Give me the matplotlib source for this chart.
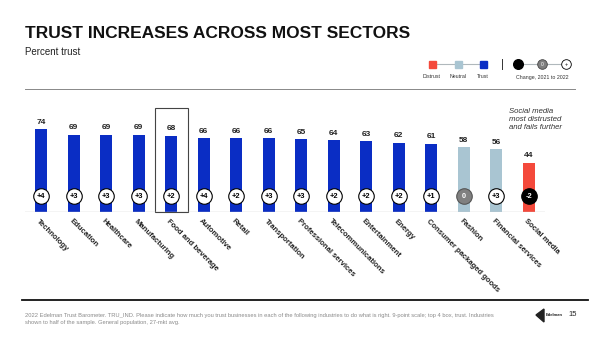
import matplotlib
matplotlib.use("Agg")
import matplotlib.pyplot as plt
from matplotlib.patches import Rectangle

plt.rcParams['font.family'] = ['Liberation Sans', 'DejaVu Sans']

categories = ["Technology", "Education", "Healthcare", "Manufacturing", "Food and beverage",
              "Automotive", "Retail", "Transportation", "Professional services",
              "Telecommunications", "Entertainment", "Energy", "Consumer packaged goods",
              "Fashion", "Financial services", "Social media"]
trust = [74, 69, 69, 69, 68, 66, 66, 66, 65, 64, 63, 62, 61, 58, 56, 44]
change = [4, 3, 3, 3, 2, 4, 2, 3, 3, 2, 2, 2, 1, 0, 3, -2]
level = ["trust"] * 13 + ["neutral", "neutral", "distrust"]

BLUE = "#0a2dc4"
NEUTRAL = "#a9c5d2"
RED = "#f4493b"
colors = {"trust": BLUE, "neutral": NEUTRAL, "distrust": RED}

W, H = 600, 337
fig = plt.figure(figsize=(W / 100, H / 100), dpi=100)

def fx(px):
    return px / W

def fy(py):
    return 1 - py / H

# Title block
fig.text(fx(25), fy(38), "TRUST INCREASES ACROSS MOST SECTORS", fontsize=12.5,
         fontweight="bold", color="#111111", va="baseline")
fig.text(fx(25), fy(55), "Percent trust", fontsize=7, color="#222222", va="baseline")

# Overlay in pixel coordinates for legend, rules and footer
lg = fig.add_axes([0, 0, 1, 1], facecolor="none")
lg.set_xlim(0, W)
lg.set_ylim(H, 0)
lg.axis("off")
lg.plot([432, 483], [64, 64], color="#b0b8bc", lw=0.8, zorder=1)
for xc, c, lab in [(432, RED, "Distrust"), (458, NEUTRAL, "Neutral"), (483, BLUE, "Trust")]:
    lg.add_patch(Rectangle((xc - 3.5, 60.5), 7, 7, color=c, zorder=2))
    lg.text(xc, 77, lab, fontsize=3.8, ha="center", va="center", color="#333333")
lg.plot([502, 502], [59, 69], color="#333333", lw=0.7)
lg.plot([518, 566], [64, 64], color="#b0b8bc", lw=0.8, zorder=1)
lg.scatter([518], [64], s=48, color="black", zorder=3)
lg.scatter([542], [64], s=48, color="#7f7f7f", edgecolors="#444444", linewidths=0.6, zorder=3)
lg.text(542, 64, "0", fontsize=3.5, color="white", ha="center", va="center", zorder=4)
lg.scatter([566], [64], s=48, color="white", edgecolors="black", linewidths=0.6, zorder=3)
lg.text(566, 64.3, "+", fontsize=4, color="black", ha="center", va="center", zorder=4)
lg.text(542, 77, "Change, 2021 to 2022", fontsize=3.8, ha="center", va="center", color="#333333")
lg.plot([25, 575], [88.5, 88.5], color="#888888", lw=0.7)
lg.plot([22, 588], [300, 300], color="#111111", lw=1.3)

# Footnote and page marker
fig.text(fx(25), fy(315),
         "2022 Edelman Trust Barometer. TRU_IND. Please indicate how much you trust businesses in each of the following industries to do what is right. 9-point scale; top 4 box, trust. Industries",
         fontsize=4.15, color="#8a8a8a", va="center")
fig.text(fx(25), fy(322.5), "shown to half of the sample. General population, 27-mkt avg.",
         fontsize=4.15, color="#8a8a8a", va="center")
lg.add_patch(plt.Polygon([[536, 315], [544, 309], [544, 322]], color="#222222"))
fig.text(fx(546), fy(315), "Edelman", fontsize=3.0, fontweight="bold", color="#222222", va="center")
fig.text(fx(568), fy(315), "15", fontsize=5.5, color="#222222", va="center")

# Main bar chart
ax = fig.add_axes([fx(25), 125 / H, 520 / W, 112 / H], facecolor="none")
x = list(range(len(categories)))
ax.bar(x, trust, width=0.36, color=[colors[l] for l in level], zorder=2)
ax.set_xlim(-0.5, len(categories) - 0.5)
ax.set_ylim(0, 100)
ax.axis("off")
ax.axhline(0, color="#c8c8c8", lw=1.0, zorder=3)

for i, v in enumerate(trust):
    ax.text(i, v + 3, str(v), ha="center", va="bottom", fontsize=6, fontweight="bold",
            color="#222222")

circle_y = 14
for i, d in enumerate(change):
    label = "0" if d == 0 else f"{d:+d}"
    if d < 0:
        fc, ec, tc = "black", "black", "white"
    elif d == 0:
        fc, ec, tc = "#808080", "#555555", "white"
    else:
        fc, ec, tc = "white", "black", "black"
    ax.scatter(i, circle_y, s=125, color=fc, edgecolors=ec, linewidths=0.8, zorder=4,
               clip_on=False)
    ax.text(i, circle_y, label, ha="center", va="center", fontsize=5.3, fontweight="bold",
            color=tc, zorder=5)

for i, c in enumerate(categories):
    ax.text(i - 0.03, -5, c, rotation=-45, rotation_mode="anchor", ha="left", va="top",
            fontsize=5.5, fontweight="bold", color="#222222")

# Highlight frame around food and beverage
ax.add_patch(Rectangle((3.5, 0), 1.0, 93, fill=False, edgecolor="#444444", lw=0.8,
                       zorder=1, clip_on=False))

ax.text(15 - 0.6, 93, "Social media\nmost distrusted\nand fails further", fontsize=5.6,
        style="italic", color="#333333", va="top", ha="left", linespacing=1.2)

fig.savefig("out.png", dpi=100)
